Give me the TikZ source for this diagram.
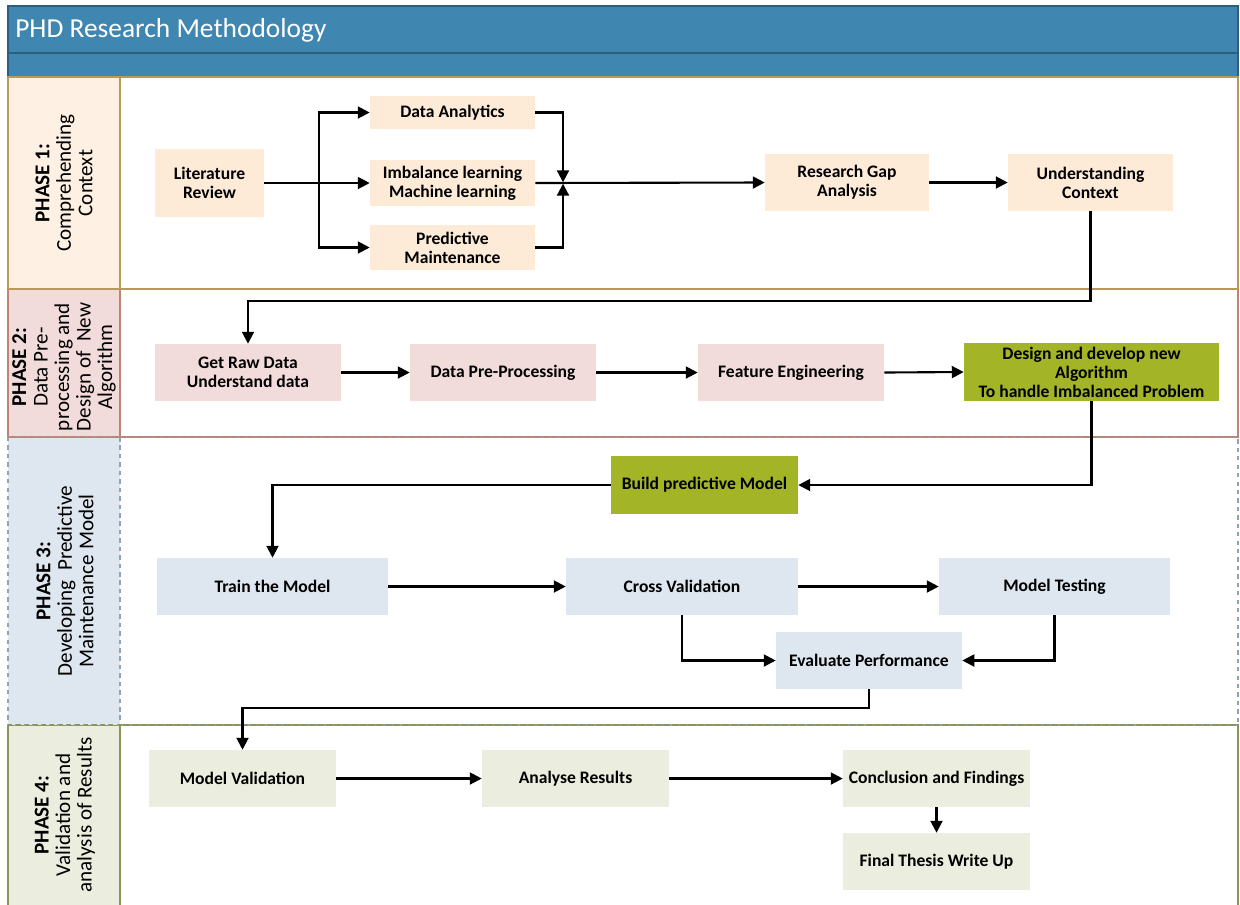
\documentclass[tikz,border=0pt]{standalone}
\usepackage{fontspec}
\setmainfont{Carlito}
\usetikzlibrary{arrows.meta}

\definecolor{titleblue}{HTML}{3F86B1}
\definecolor{titleedge}{HTML}{2B5F80}
\definecolor{ponefill}{HTML}{FDEBD8}
\definecolor{poneline}{HTML}{B79B55}
\definecolor{ptwofill}{HTML}{F2DCDB}
\definecolor{ptwoline}{HTML}{C08272}
\definecolor{pthreefill}{HTML}{DEE6EF}
\definecolor{pthreeline}{HTML}{8FA3B5}
\definecolor{pfourfill}{HTML}{EBEDDE}
\definecolor{pfourline}{HTML}{8A955E}
\definecolor{algogreen}{HTML}{A3B526}

\tikzset{
  sz/.style 2 args={minimum width={#1*0.025cm}, minimum height={#2*0.025cm}},
  box/.style={draw=none, inner sep=2pt, align=center,
    font=\fontsize{12.5}{13.5}\selectfont\bfseries},
  orangebox/.style={box, fill=ponefill},
  pinkbox/.style={box, fill=ptwofill},
  bluebox/.style={box, fill=pthreefill},
  greenbox/.style={box, fill=pfourfill},
  algobox/.style={box, fill=algogreen},
  phaselabel/.style={rotate=90, align=center, inner sep=0pt,
    font=\fontsize{15}{15.3}\selectfont},
  arr/.style={-{Triangle[length=8.5pt,width=8.5pt]}, line width=1.5pt, black},
  ln/.style={line width=1.5pt, black},
  frame/.style={line width=1pt},
}

\begin{document}
\begin{tikzpicture}[x=0.025cm, y=-0.025cm]
\useasboundingbox (0,0) rectangle (1240,904);
\clip (0,0) rectangle (1240,904);
\fill[white] (0,0) rectangle (1240,904);

% header bands
\draw[frame, draw=titleedge, fill=titleblue] (8,6) rectangle (1238,53);
\draw[frame, draw=titleedge, fill=titleblue] (8,53) rectangle (1238,77);
\node[anchor=west, text=white, inner sep=0pt,
      font=\fontsize{19.5}{22}\selectfont] (title) at (15,30) {PHD Research Methodology};

% phase lanes
\draw[frame, draw=pfourline, fill=pfourfill] (8,725) rectangle (120,920);
\draw[frame, draw=pfourline] (120,725) rectangle (1238,920);
\draw[frame, draw=pthreeline, dashed, fill=pthreefill] (8,437) rectangle (120,725);
\draw[frame, draw=pthreeline, dashed] (120,437) rectangle (1238,725);
\draw[frame, draw=pfourline, dashed] (8,725) -- (1238,725);
\draw[frame, draw=ptwoline, fill=ptwofill] (8,289) rectangle (120,437);
\draw[frame, draw=ptwoline] (120,289) rectangle (1238,437);
\draw[frame, draw=ptwoline!60!pthreeline, dashed] (8,437) -- (1238,437);
\draw[frame, draw=poneline, fill=ponefill!75!white] (8,77) rectangle (120,289);
\draw[frame, draw=poneline] (120,77) rectangle (1238,289);

% phase titles
\node[phaselabel] (ph1) at (64,183) {\textbf{PHASE 1:}\\Comprehending\\Context};
\node[phaselabel] (ph2) at (64,367) {\textbf{PHASE 2:}\\Data Pre-\\processing and\\Design of\ \ New\\Algorithm};
\node[phaselabel] (ph3) at (65,581) {\textbf{PHASE 3:}\\Developing\ \ Predictive\\Maintenance Model};
\node[phaselabel] (ph4) at (65,815) {\textbf{PHASE 4:}\\Validation and\\analysis of Results};

% phase 1
\node[orangebox, sz={109}{68}] (lit) at (209.5,183) {Literature\\Review};
\node[orangebox, sz={165}{33}] (da) at (452.5,112.5) {Data Analytics};
\node[orangebox, sz={165}{46}] (il) at (452.5,183) {Imbalance learning\\Machine learning};
\node[orangebox, sz={165}{45}] (pm) at (452.5,247.5) {Predictive\\Maintenance};
\node[orangebox, sz={164}{57}] (rg) at (847,182.5) {Research Gap\\Analysis};
\node[orangebox, sz={165}{57}] (uc) at (1090.5,182.5) {Understanding\\Context};

% phase 2
\node[pinkbox, sz={186}{57}] (raw) at (248,372.5) {Get Raw Data\\Understand data};
\node[pinkbox, sz={186}{57}] (pre) at (503,372.5) {Data Pre-Processing};
\node[pinkbox, sz={186}{57}] (fe) at (791,372.5) {Feature Engineering};
\node[algobox, sz={255}{58}] (algo) at (1091.5,372) {Design and develop new\\Algorithm\\To handle Imbalanced Problem};

% phase 3
\node[algobox, sz={187}{58}] (bpm) at (704.5,485) {Build predictive Model};
\node[bluebox, sz={231}{57}] (train) at (272.5,586.5) {Train the Model};
\node[bluebox, sz={232}{57}] (cv) at (682,586.5) {Cross Validation};
\node[bluebox, sz={231}{57}] (mt) at (1054.5,586.5) {Model Testing};
\node[bluebox, sz={186}{57}] (ev) at (869,660.5) {Evaluate Performance};

% phase 4
\node[greenbox, sz={187}{57}] (mv) at (242.5,778.5) {Model Validation};
\node[greenbox, sz={187}{57}] (ar) at (575.5,778.5) {Analyse Results};
\node[greenbox, sz={187}{57}] (cf) at (936.5,778.5) {Conclusion and Findings};
\node[greenbox, sz={187}{57}] (ft) at (936.5,861.5) {Final Thesis Write Up};

% routing points
\coordinate (split) at (319,183);
\coordinate (merge) at (563,183);

% connectors, phase 1
\draw[arr] (lit.east) -- (il.west);
\draw[ln] (lit.east) -- (split);
\draw[arr] (split) |- (da.west);
\draw[arr] (split) |- (pm.west);
\draw[arr, shorten >=0.5pt] (da.east) -| (merge);
\draw[arr, shorten >=0.5pt] (pm.east) -| (merge);
\draw[arr] (il.east) -- (rg.west);
\draw[arr] (rg.east) -- (uc.west);
\draw[arr] (uc.south) -- ++(0,90) -| (raw.north);

% connectors, phase 2
\draw[arr] (raw.east) -- (pre.west);
\draw[arr] (pre.east) -- (fe.west);
\draw[arr] (fe.east) -- (algo.west);
\draw[arr] (algo.south) |- (bpm.east);

% connectors, phase 3
\draw[arr] (bpm.west) -| (train.north);
\draw[arr] (train.east) -- (cv.west);
\draw[arr] (cv.east) -- (mt.west);
\draw[arr] (cv.south) |- (ev.west);
\draw[arr] (mt.south) |- (ev.east);
\draw[arr] (ev.south) -- ++(0,19) -| (mv.north);

% connectors, phase 4
\draw[arr] (mv.east) -- (ar.west);
\draw[arr] (ar.east) -- (cf.west);
\draw[arr] (cf.south) -- (ft.north);
\end{tikzpicture}
\end{document}
